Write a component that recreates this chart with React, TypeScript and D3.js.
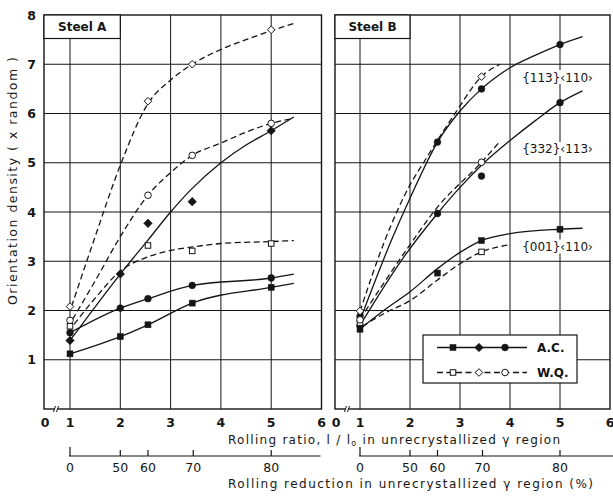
import React from 'react';
import * as d3 from 'd3';

// axis ticks
const ratioTicks = [1, 2, 3, 4, 5, 6];
const reductionTicks = [0, 50, 60, 70, 80];
const reductionAt = [1, 2, 2.55, 3.45, 5]; // ratio position of each reduction tick
const yTicks = [1, 2, 3, 4, 5, 6, 7, 8];

// Steel A: measured points
const xA_AC = [1, 2, 2.55, 3.43, 5];
const a001AC = [1.12, 1.47, 1.71, 2.15, 2.47];
const a113AC = [1.39, 2.74, 3.77, 4.21, 5.65];
const a332AC = [1.55, 2.05, 2.24, 2.51, 2.66];
const xA_WQ = [1, 2.55, 3.43, 5];
const a001WQ = [1.68, 3.32, 3.21, 3.36];
const a113WQ = [2.08, 6.25, 7.0, 7.7];
const a332WQ = [1.8, 4.34, 5.15, 5.8];

// Steel A: hand-fitted curves [ratio, density]
const fitA001AC = [[1, 1.12], [2, 1.47], [2.55, 1.71], [3.43, 2.15], [5, 2.47], [5.45, 2.55]];
const fitA113AC = [[1, 1.39], [2, 2.74], [2.55, 3.43], [3, 4.0], [3.4, 4.45], [4, 5.0], [4.5, 5.36], [5, 5.65], [5.45, 5.93]];
const fitA332AC = [[1, 1.55], [2, 2.05], [2.55, 2.24], [3.43, 2.51], [5, 2.66], [5.45, 2.74]];
const fitA001WQ = [[1.08, 1.72], [1.5, 2.25], [2, 2.8], [2.5, 3.07], [3, 3.22], [3.5, 3.3], [4, 3.36], [5, 3.4], [5.45, 3.42]];
const fitA113WQ = [[1.03, 2.08], [1.5, 3.5], [2, 4.95], [2.55, 6.2], [3, 6.68], [3.43, 7.0], [4, 7.3], [4.5, 7.5], [5, 7.68], [5.45, 7.83]];
const fitA332WQ = [[1.05, 1.82], [1.5, 2.6], [2, 3.5], [2.55, 4.34], [3, 4.8], [3.43, 5.15], [4, 5.4], [4.5, 5.62], [5, 5.8], [5.45, 5.9]];

// Steel B: measured points
const xB_AC = [1, 2.55, 3.43, 5];
const b001AC = [1.62, 2.76, 3.42, 3.65];
const b113AC = [1.88, 5.42, 6.5, 7.4];
const b332AC = [1.69, 3.97, 4.73, 6.22];
const xB_WQ = [1, 3.43];
const b001WQ = [1.75, 3.19];
const b113WQ = [1.99, 6.75];
const b332WQ = [1.81, 5.01];

// Steel B: hand-fitted curves
const fitB001AC = [[1.02, 1.64], [1.5, 2.02], [2, 2.38], [2.55, 2.85], [3, 3.18], [3.43, 3.42], [4, 3.56], [5, 3.65], [5.45, 3.67]];
const fitB113AC = [[1.03, 1.88], [1.63, 3.43], [2, 4.28], [2.55, 5.42], [3, 6.05], [3.43, 6.5], [4, 6.93], [4.5, 7.18], [5, 7.4], [5.45, 7.56]];
const fitB332AC = [[1.03, 1.75], [1.83, 3.02], [2.55, 3.97], [3, 4.5], [3.43, 4.95], [4, 5.45], [4.5, 5.85], [5, 6.22], [5.45, 6.46]];
const fitB001WQ = [[1.05, 1.68], [1.5, 1.95], [2, 2.2], [2.55, 2.62], [3, 2.95], [3.43, 3.19], [3.97, 3.33]];
const fitB113WQ = [[1.0, 1.98], [1.5, 3.43], [2, 4.55], [2.27, 5.0], [2.9, 6.0], [3.43, 6.75], [3.8, 7.0]];
const fitB332WQ = [[1.0, 1.82], [1.92, 3.22], [2.55, 4.1], [3.43, 5.01], [3.77, 5.4]];

const orientLabels = ['{113}‹110›', '{332}‹113›', '{001}‹110›'];
const orientLabelAt = [6.74, 5.28, 3.3]; // density where each label sits (Steel B)

const ink = '#151515';
const font = 'DejaVu Sans, sans-serif';
const y = d3.scaleLinear().domain([0, 8]).range([409, 15]);

type Marker = 'square' | 'diamond' | 'circle';

const Mark = ({ cx, cy, kind, open }: { cx: number; cy: number; kind: Marker; open: boolean }) => {
  const fill = open ? '#fff' : ink;
  const sw = open ? 1 : 0.5;
  if (kind === 'square') {
    const s = open ? 5.5 : 6;
    return <rect x={cx - s / 2} y={cy - s / 2} width={s} height={s} fill={fill} stroke={ink} strokeWidth={sw} />;
  }
  if (kind === 'diamond') {
    const r = open ? 3.8 : 4.3;
    return <path d={`M${cx},${cy - r}L${cx + r},${cy}L${cx},${cy + r}L${cx - r},${cy}Z`} fill={fill} stroke={ink} strokeWidth={sw} />;
  }
  return <circle cx={cx} cy={cy} r={open ? 3.3 : 3.4} fill={fill} stroke={ink} strokeWidth={sw} />;
};

interface Series { xs: number[]; ys: number[]; kind: Marker; open: boolean; fit: number[][] }

const Panel = ({ left, right, x, title, series, labels }: {
  left: number; right: number; x: d3.ScaleLinear<number, number>; title: string; series: Series[]; labels?: boolean;
}) => {
  const line = d3.line<number[]>().x(d => x(d[0])).y(d => y(d[1])).curve(d3.curveMonotoneX);
  const boxBottom = 38.5;
  return (
    <g>
      {yTicks.slice(0, 7).map(v => (
        <line key={'h' + v} x1={left} x2={right} y1={y(v)} y2={y(v)} stroke={ink} strokeWidth={1} />
      ))}
      {ratioTicks.slice(0, 5).map(t => (
        <line key={'v' + t} x1={x(t)} x2={x(t)} y1={y(0)} y2={y(8)} stroke={ink} strokeWidth={1} />
      ))}
      <rect x={left} y={y(8)} width={right - left} height={y(0) - y(8)} fill="none" stroke={ink} strokeWidth={1.4} />
      {/* axis break */}
      <rect x={left + 10.5} y={y(0) - 2} width={3} height={4} fill="#fff" />
      <line x1={left + 9.5} x2={left + 11.5} y1={y(0) + 3} y2={y(0) - 3} stroke={ink} strokeWidth={1} />
      <line x1={left + 12.5} x2={left + 14.5} y1={y(0) + 3} y2={y(0) - 3} stroke={ink} strokeWidth={1} />

      {labels && orientLabels.map((lab, i) => (
        <rect key={'lb' + i} x={x(4.3)} y={y(orientLabelAt[i]) - 7} width={70} height={14} fill="#fff" />
      ))}

      {series.map((s, i) => (
        <path key={'f' + i} d={line(s.fit) || ''} fill="none" stroke={ink} strokeWidth={1.3}
          strokeDasharray={s.open ? '6,3.5' : undefined} />
      ))}
      {series.map((s, i) => s.xs.map((xv, j) => (
        <Mark key={'m' + i + '-' + j} cx={x(xv)} cy={y(s.ys[j])} kind={s.kind} open={s.open} />
      )))}

      {labels && orientLabels.map((lab, i) => (
        <text key={lab} x={x(4.95)} y={y(orientLabelAt[i]) + 4.5} textAnchor="middle" fontFamily={font} fontSize={12} fill={ink}>{lab}</text>
      ))}

      {/* steel box */}
      <rect x={left} y={y(8)} width={x(2) - left} height={boxBottom - y(8)} fill="#fff" stroke={ink} strokeWidth={1.2} />
      <text x={(left + x(2)) / 2} y={31} textAnchor="middle" fontFamily={font} fontWeight="bold" fontSize={12} fill={ink}>{title}</text>

      {/* ratio tick labels */}
      <text x={left + 1} y={426.5} textAnchor="middle" fontFamily={font} fontWeight="bold" fontSize={12.5} fill={ink}>0</text>
      {ratioTicks.map(t => (
        <text key={'t' + t} x={x(t)} y={426.5} textAnchor="middle" fontFamily={font} fontWeight="bold" fontSize={12.5} fill={ink}>{t}</text>
      ))}

      {/* reduction ruler */}
      <line x1={x(1) - 1} x2={right - (labels ? -3 : 1)} y1={456} y2={456} stroke={ink} strokeWidth={1.2} />
      {reductionTicks.map((r, i) => (
        <g key={'r' + r}>
          <line x1={x(reductionAt[i])} x2={x(reductionAt[i])} y1={i === 0 ? 447 : 450} y2={456} stroke={ink} strokeWidth={1.2} />
          <text x={x(reductionAt[i])} y={471.5} textAnchor="middle" fontFamily={font} fontSize={12.5} fill={ink}>{r}</text>
        </g>
      ))}
    </g>
  );
};

const App = () => {
  const xA = d3.scaleLinear().domain([1, 6]).range([70, 321.5]);
  const xB = d3.scaleLinear().domain([1, 6]).range([360, 610]);

  const seriesA: Series[] = [
    { xs: xA_AC, ys: a001AC, kind: 'square', open: false, fit: fitA001AC },
    { xs: xA_AC, ys: a113AC, kind: 'diamond', open: false, fit: fitA113AC },
    { xs: xA_AC, ys: a332AC, kind: 'circle', open: false, fit: fitA332AC },
    { xs: xA_WQ, ys: a001WQ, kind: 'square', open: true, fit: fitA001WQ },
    { xs: xA_WQ, ys: a113WQ, kind: 'diamond', open: true, fit: fitA113WQ },
    { xs: xA_WQ, ys: a332WQ, kind: 'circle', open: true, fit: fitA332WQ },
  ];
  const seriesB: Series[] = [
    { xs: xB_AC, ys: b001AC, kind: 'square', open: false, fit: fitB001AC },
    { xs: xB_AC, ys: b113AC, kind: 'circle', open: false, fit: fitB113AC },
    { xs: xB_AC, ys: b332AC, kind: 'circle', open: false, fit: fitB332AC },
    { xs: xB_WQ, ys: b001WQ, kind: 'square', open: true, fit: fitB001WQ },
    { xs: xB_WQ, ys: b113WQ, kind: 'diamond', open: true, fit: fitB113WQ },
    { xs: xB_WQ, ys: b332WQ, kind: 'circle', open: true, fit: fitB332WQ },
  ];

  const legendKinds: Marker[] = ['square', 'diamond', 'circle'];
  const legendX = [453, 479, 505];

  return (
    <svg width={613} height={496} style={{ position: 'absolute', left: 0, top: 0, background: '#fff' }}>
      <Panel left={44} right={321.5} x={xA} title="Steel A" series={seriesA} />
      <Panel left={335} right={610} x={xB} title="Steel B" series={seriesB} labels />

      {/* y axis */}
      {yTicks.map(v => (
        <text key={'y' + v} x={36} y={y(v) + 4.5} textAnchor="end" fontFamily={font} fontWeight="bold" fontSize={12.5} fill={ink}>{v}</text>
      ))}
      <text transform="translate(17,181) rotate(-90)" textAnchor="middle" fontFamily={font} fontSize={12.5} fill={ink}
        textLength={248} lengthAdjust="spacing">Orientation density ( x random )</text>

      {/* legend */}
      <g>
        <rect x={423} y={335} width={154} height={48} fill="#fff" stroke={ink} strokeWidth={1.2} />
        {[false, true].map((open, row) => {
          const ly = row === 0 ? 347.5 : 372.5;
          return (
            <g key={'lg' + row}>
              <line x1={437} x2={527} y1={ly} y2={ly} stroke={ink} strokeWidth={1.3} strokeDasharray={open ? '6,3.5' : undefined} />
              {legendKinds.map((k, i) => <Mark key={k} cx={legendX[i]} cy={ly} kind={k} open={open} />)}
              <text x={537} y={ly + 4.5} fontFamily={font} fontWeight="bold" fontSize={12} fill={ink}>{open ? 'W.Q.' : 'A.C.'}</text>
            </g>
          );
        })}
      </g>

      {/* axis titles */}
      <text x={228} y={444} fontFamily={font} fontSize={12} fill={ink} textLength={332} lengthAdjust="spacing">
        Rolling ratio, l / l<tspan fontSize={8} dy={2}>o</tspan><tspan dy={-2}> in unrecrystallized γ region</tspan>
      </text>
      <text x={228} y={487.5} fontFamily={font} fontSize={12} fill={ink} textLength={365} lengthAdjust="spacing">
        Rolling reduction in unrecrystallized γ region (%)
      </text>
    </svg>
  );
};

export default App;
